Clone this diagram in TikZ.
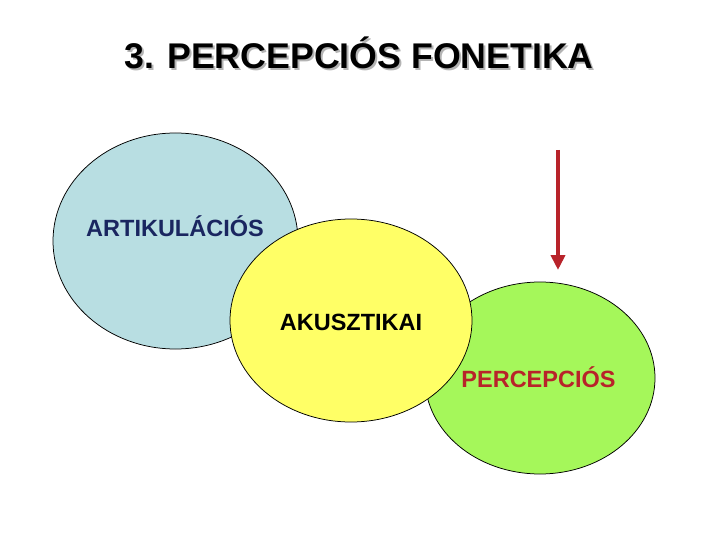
\documentclass[tikz,border=0pt]{standalone}
\usepackage{fontspec}
\setmainfont{Liberation Sans}
\usetikzlibrary{shapes.geometric,arrows.meta}
\definecolor{cblue}{HTML}{B8DEE2}
\definecolor{cyellow}{HTML}{FFFF66}
\definecolor{cgreen}{HTML}{A5F75A}
\definecolor{cnavy}{HTML}{1A2660}
\definecolor{cred}{HTML}{B8232A}
\definecolor{cshadow}{HTML}{B4B4B4}
\tikzset{
  blob/.style={ellipse, draw=black, line width=0.75pt, inner sep=0pt},
  lbl/.style={anchor=base, inner sep=0pt, font=\fontsize{23.5}{28}\selectfont\bfseries},
  ttl/.style={anchor=base, inner sep=0pt, font=\fontsize{35.7}{42}\selectfont\bfseries},
}
\begin{document}
\begin{tikzpicture}[x=1pt,y=-1pt]
\useasboundingbox (0,0) rectangle (720,540);
\fill[white] (0,0) rectangle (720,540);
% title with shadow
\node[ttl, text=cshadow] (titleshadow) at (361,70.8) {3. PERCEPCIÓS FONETIKA};
\node[ttl, text=black] (title) at (359,68.8) {3. PERCEPCIÓS FONETIKA};
% ellipses
\node[blob, fill=cblue, minimum width=245pt, minimum height=216pt] (art) at (175.5,241) {};
\node[blob, fill=cgreen, minimum width=230pt, minimum height=192pt] (perc) at (540,378) {};
\node[blob, fill=cyellow, minimum width=242pt, minimum height=203pt] (aku) at (351,320.5) {};
% labels
\node[lbl, text=cnavy] (artl) at (175,236.4) {ARTIKULÁCIÓS};
\node[lbl, text=black] (akul) at (351,330.4) {AKUSZTIKAI};
\node[lbl, text=cred] (percl) at (538.5,387.4) {PERCEPCIÓS};
% arrow
\coordinate (atop) at (558,150);
\coordinate (abot) at (558,270);
\draw[cred, line width=4pt, -{Triangle[length=15pt,width=14pt]}] (atop) -- (abot);
\end{tikzpicture}
\end{document}
